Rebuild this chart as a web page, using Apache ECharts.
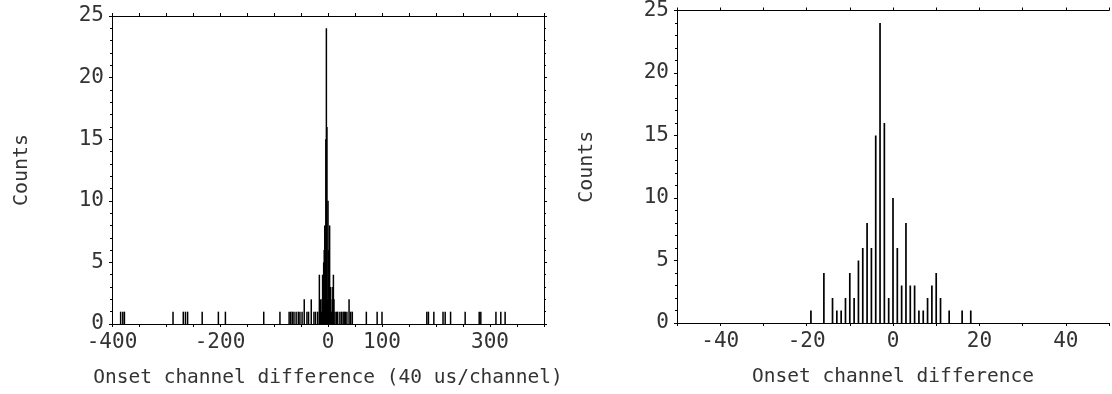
<!DOCTYPE html>
<html>
<head>
<meta charset="utf-8">
<script src="https://cdn.jsdelivr.net/npm/echarts@6/dist/echarts.min.js"></script>
<style>
html,body{margin:0;padding:0;background:#fff;}
#c{width:1112px;height:394px;}
</style>
</head>
<body>
<div id="c"></div>
<script>
// Right panel: counts per onset channel difference (zoomed view)
const rightBins   = [-19,-16,-14,-13,-12,-11,-10,-9,-8,-7,-6,-5,-4,-3,-2,-1,0,1,2,3,4,5,6,7,8,9,10,11,13,16,18];
const rightCounts = [1,4,2,1,1,2,4,2,5,6,8,6,15,24,16,2,10,6,3,8,3,3,1,1,2,3,4,2,1,1,1];
// Left panel: additional entries outside the central region
const outlierBins   = [-384,-380,-377,-287,-268,-264,-260,-233,-203,-190,-119,-89,-72,-69,-66,-63,-59,-55,-52,-48,-44,-39,-36,-31,-26,-23,22,25,28,30,32,35,39,42,45,71,91,100,183,186,196,213,217,227,254,280,283,311,320,328];
const outlierCounts = [1,1,1,1,1,1,1,1,1,1,1,1,1,1,1,1,1,1,1,1,2,1,1,2,1,1,1,1,1,1,1,1,2,1,1,1,1,1,1,1,1,1,1,1,1,1,1,1,1,1];
// Tick labels
const leftXLabels  = [-400,-200,0,100,300];
const rightXLabels = [-40,-20,0,20,40];
const yLabels      = [0,5,10,15,20,25];

const leftData = rightBins.map((b,i)=>[b,rightCounts[i]])
  .concat(outlierBins.map((b,i)=>[b,outlierCounts[i]]));
const rightData = rightBins.map((b,i)=>[b,rightCounts[i]]);

const FONT = '"DejaVu Sans Mono", monospace';
const TXT = '#333';
const line = {show:true, onZero:false, lineStyle:{color:'#000', width:1}};

function xAxes(grid, min, max, step, labels, name){
  return [{
    type:'value', gridIndex:grid, position:'bottom', min:min, max:max, interval:step,
    axisLine:line, splitLine:{show:false},
    axisTick:{show:true, length:3, lineStyle:{color:'#000'}},
    axisLabel:{show:true, margin:8, fontFamily:FONT, fontSize:21, color:TXT, showMinLabel:true, showMaxLabel:true,
      formatter:v=>labels.indexOf(v)>=0 ? String(v) : ''},
    name:name, nameLocation:'middle', nameGap:44,
    nameTextStyle:{fontFamily:FONT, fontSize:19.5, color:TXT}
  },{
    type:'value', gridIndex:grid, position:'top', min:min, max:max, interval:step,
    axisLine:line, splitLine:{show:false},
    axisTick:{show:true, length:3, lineStyle:{color:'#000'}},
    axisLabel:{show:false}
  }];
}
function yAxes(grid, withRight){
  const a = [{
    type:'value', gridIndex:grid, position:'left', min:0, max:25, interval:5,
    axisLine:line, splitLine:{show:false},
    axisTick:{show:true, length:3, lineStyle:{color:'#000'}},
    minorTick:{show:true, splitNumber:5, length:2, lineStyle:{color:'#000'}},
    axisLabel:{show:true, margin:8, fontFamily:FONT, fontSize:21, color:TXT,
      formatter:v=>yLabels.indexOf(v)>=0 ? String(v) : ''},
    name:'Counts', nameLocation:'middle', nameGap:80, nameRotate:90,
    nameTextStyle:{fontFamily:FONT, fontSize:20, color:TXT}
  }];
  if(withRight){
    a.push({
      type:'value', gridIndex:grid, position:'right', min:0, max:25, interval:5,
      axisLine:line, splitLine:{show:false},
      axisTick:{show:true, length:3, lineStyle:{color:'#000'}},
      minorTick:{show:true, splitNumber:5, length:2, lineStyle:{color:'#000'}},
      axisLabel:{show:false}
    });
  }
  return a;
}

const chart = echarts.init(document.getElementById('c'), null, {renderer:'canvas'});
chart.setOption({
  animation:false,
  backgroundColor:'#fff',
  grid:[
    {left:112, top:16, width:432, height:308, containLabel:false},
    {left:677, top:10, width:437, height:313, containLabel:false}
  ],
  xAxis: xAxes(0,-400,400,50,leftXLabels,'Onset channel difference (40 us/channel)')
    .concat(xAxes(1,-50,50,10,rightXLabels,'Onset channel difference')),
  yAxis: yAxes(0,true).concat(yAxes(1,false)),
  series:[
    {type:'bar', xAxisIndex:0, yAxisIndex:0, data:leftData, barWidth:1.5,
      itemStyle:{color:'#000'}, silent:true},
    {type:'bar', xAxisIndex:2, yAxisIndex:2, data:rightData, barWidth:1.7,
      itemStyle:{color:'#000'}, silent:true}
  ]
});
</script>
</body>
</html>
